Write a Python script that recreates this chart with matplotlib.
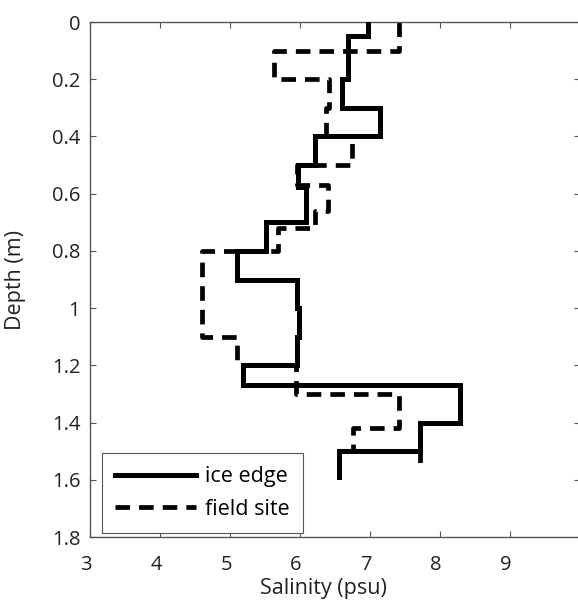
import numpy as np
import matplotlib.pyplot as plt
import matplotlib.transforms as mtransforms

plt.rcParams['font.family'] = ['Open Sans', 'DejaVu Sans']
plt.rcParams['lines.scale_dashes'] = False

# ice edge profile: layer boundaries (m) and salinity in each layer (psu)
ice_depth = [0, 0.05, 0.2, 0.3, 0.4, 0.5, 0.575, 0.7, 0.8, 0.9, 1.0, 1.1, 1.2, 1.27, 1.4, 1.5, 1.59]
ice_sal = [6.97, 6.69, 6.60, 7.14, 6.21, 5.97, 6.08, 5.52, 5.10, 5.95, 5.98, 5.95, 5.19, 8.28, 7.72, 6.55]

# field site profile
field_depth = [0, 0.1, 0.2, 0.3, 0.4, 0.5, 0.57, 0.66, 0.72, 0.8, 1.1, 1.2, 1.3, 1.42, 1.5, 1.57]
field_sal = [7.42, 5.63, 6.41, 6.37, 6.74, 5.95, 6.40, 6.22, 5.69, 4.60, 5.10, 5.94, 7.42, 6.75, 7.72]

xticks = [3, 4, 5, 6, 7, 8, 9]
yticks = [0, 0.2, 0.4, 0.6, 0.8, 1, 1.2, 1.4, 1.6, 1.8]
ytick_labels = ['0', '0.2', '0.4', '0.6', '0.8', '1', '1.2', '1.4', '1.6', '1.8']


def stairs(depth, sal):
    # vertical segment for each layer, joined by horizontal steps
    d = np.asarray(depth)
    x = np.repeat(sal, 2)
    y = np.column_stack([d[:-1], d[1:]]).ravel()
    return x, y


fig = plt.figure(figsize=(5.78, 6.0), dpi=100)
ax = fig.add_axes([90 / 578, 63 / 600, 490 / 578, 515 / 600])

xs, ys = stairs(field_depth, field_sal)
ax.plot(xs, ys, color='black', lw=3.4, dashes=(10.5, 6.5), solid_joinstyle='miter',
        label='field site', zorder=2)
xi, yi = stairs(ice_depth, ice_sal)
ax.plot(xi, yi, color='black', lw=3.6, solid_joinstyle='miter', label='ice edge', zorder=3)

ax.set_xlim(3, 10)
ax.set_ylim(1.8, 0)
ax.set_xticks(xticks)
ax.set_yticks(yticks)
ax.set_yticklabels(ytick_labels)

for s in ax.spines.values():
    s.set_color('#555555')
    s.set_linewidth(1.0)
ax.tick_params(direction='in', length=4, width=0.8, color='#555555',
               top=True, right=True, labelsize=14.5, labelcolor='#222222')
ax.tick_params(axis='x', pad=13)
ax.tick_params(axis='y', pad=7)

shift = mtransforms.ScaledTranslation(-4 / 100, 0, fig.dpi_scale_trans)
for lab in ax.get_xticklabels():
    lab.set_transform(lab.get_transform() + shift)

ax.set_xlabel('Salinity (psu)', fontsize=15.5, color='#222222', va='bottom')
ax.xaxis.set_label_coords(0.476, -0.12)
ax.set_ylabel('Depth (m)', fontsize=15.5, color='#222222')
ax.yaxis.set_label_coords(-0.13, 0.5)

handles, labels = ax.get_legend_handles_labels()
leg = ax.legend(handles[::-1], labels[::-1], loc='lower left',
                bbox_to_anchor=(0.0245, 0.008), borderaxespad=0,
                fontsize=15.5, handlelength=3.75, handletextpad=0.45,
                labelspacing=0.55, borderpad=0.6, fancybox=False,
                framealpha=1, edgecolor='#555555')
leg.get_frame().set_linewidth(0.8)

fig.savefig('out.png', dpi=100)
